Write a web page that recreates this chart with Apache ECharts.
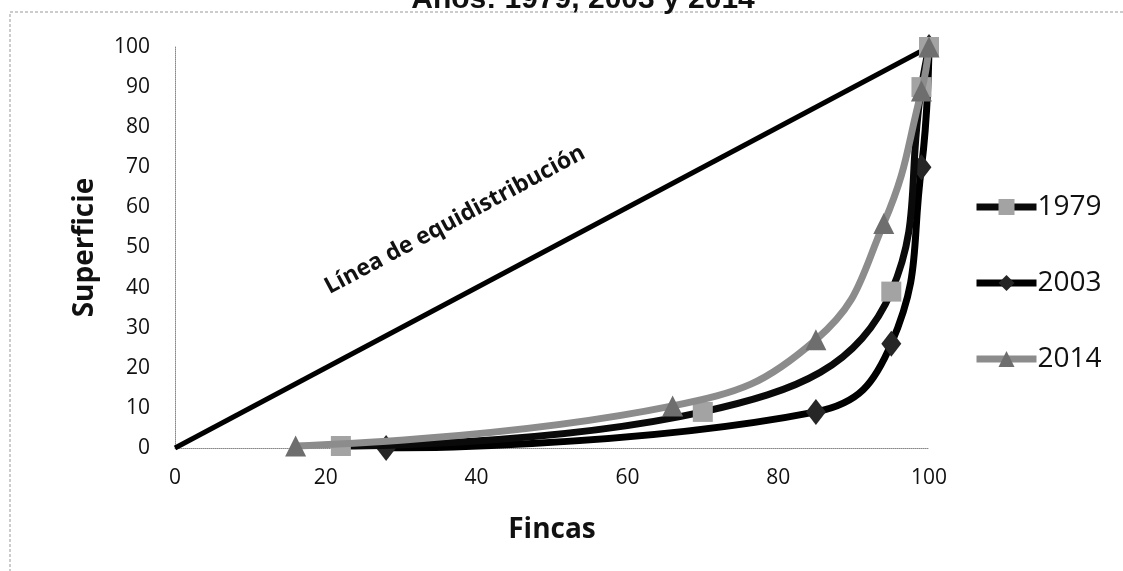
<!DOCTYPE html>
<html>
<head>
<meta charset="utf-8">
<script src="https://cdn.jsdelivr.net/npm/echarts@6/dist/echarts.min.js"></script>
<style>
html,body{margin:0;padding:0;background:#fff;}
#chart{width:1123px;height:571px;}
</style>
</head>
<body>
<div id="chart"></div>
<script>
const xTicks = [0, 20, 40, 60, 80, 100];
const yTicks = [0, 10, 20, 30, 40, 50, 60, 70, 80, 90, 100];
const equidistribution = [[0, 0], [100, 100]];
const s1979 = [[22, 0.5], [70, 9], [95, 39], [99, 90], [100, 100]];
const s2003 = [[28, 0], [85, 9], [95, 26], [99, 70], [100, 100]];
const s2014 = [[16, 0.5], [66, 10.5], [85, 27], [94, 56], [99, 89], [100, 100]];

const chart = echarts.init(document.getElementById('chart'));
const tickFont = {fontFamily: 'Open Sans', fontSize: 21, color: '#111'};
chart.setOption({
  backgroundColor: '#fff',
  animation: false,
  grid: {left: 175, right: 194, top: 47, bottom: 123},
  graphic: [
    {type: 'rect', shape: {x: 10, y: 12, width: 1130, height: 580}, style: {fill: 'none', stroke: '#999', lineWidth: 1, lineDash: [3, 2]}, z: -1},
    {type: 'text', x: 583, y: 15, style: {text: 'Años: 1979, 2003 y 2014', font: 'bold 30px "Liberation Sans"', fill: '#111', textAlign: 'center', textVerticalAlign: 'bottom'}},
    {type: 'text', x: 455, y: 220, rotation: 0.49, style: {text: 'Línea de equidistribución', font: 'bold 23px "Open Sans"', fill: '#111', textAlign: 'center', textVerticalAlign: 'middle'}}
  ],
  legend: {
    orient: 'vertical',
    left: 968,
    top: 188,
    itemGap: 48,
    itemWidth: 60,
    itemHeight: 20,
    textStyle: {fontFamily: 'Open Sans', fontSize: 28, color: '#111', padding: [0, 0, 0, -4]},
    data: [
      {name: '1979', lineStyle: {width: 7}},
      {name: '2003', lineStyle: {width: 7}},
      {name: '2014', lineStyle: {width: 7}}
    ]
  },
  xAxis: {
    type: 'value', min: 0, max: 100, interval: 20,
    name: 'Fincas', nameLocation: 'middle', nameGap: 68,
    nameTextStyle: {fontFamily: 'Open Sans', fontWeight: 'bold', fontSize: 28, color: '#111'},
    axisLine: {show: true, lineStyle: {color: '#888', width: 1, type: 'dotted'}},
    axisTick: {show: false},
    splitLine: {show: false},
    axisLabel: Object.assign({margin: 20, formatter: v => xTicks.includes(v) ? String(v) : ''}, tickFont)
  },
  yAxis: {
    type: 'value', min: 0, max: 100, interval: 10,
    name: 'Superficie', nameLocation: 'middle', nameGap: 76,
    nameTextStyle: {fontFamily: 'Open Sans', fontWeight: 'bold', fontSize: 28, color: '#111'},
    axisLine: {show: true, lineStyle: {color: '#888', width: 1, type: 'dotted'}},
    axisTick: {show: false},
    splitLine: {show: false},
    axisLabel: Object.assign({margin: 25, formatter: v => yTicks.includes(v) ? String(v) : ''}, tickFont)
  },
  series: [
    {
      name: 'equidistribución', type: 'line', data: equidistribution,
      showSymbol: false, symbol: 'none',
      lineStyle: {color: '#000', width: 5}, z: 1
    },
    {
      name: '1979', type: 'line', data: s1979, smooth: 0.45,
      symbol: 'rect', symbolSize: 20,
      itemStyle: {color: '#a3a3a3'},
      lineStyle: {color: '#0a0a0a', width: 7}, z: 3
    },
    {
      name: '2003', type: 'line', data: s2003, smooth: 0.45,
      symbol: 'diamond', symbolSize: [20, 26],
      itemStyle: {color: '#262626'},
      lineStyle: {color: '#000', width: 7}, z: 2
    },
    {
      name: '2014', type: 'line', data: s2014, smooth: 0.45,
      symbol: 'triangle', symbolSize: 21,
      itemStyle: {color: '#6e6e6e'},
      lineStyle: {color: '#8c8c8c', width: 7}, z: 4
    }
  ]
});
</script>
</body>
</html>
